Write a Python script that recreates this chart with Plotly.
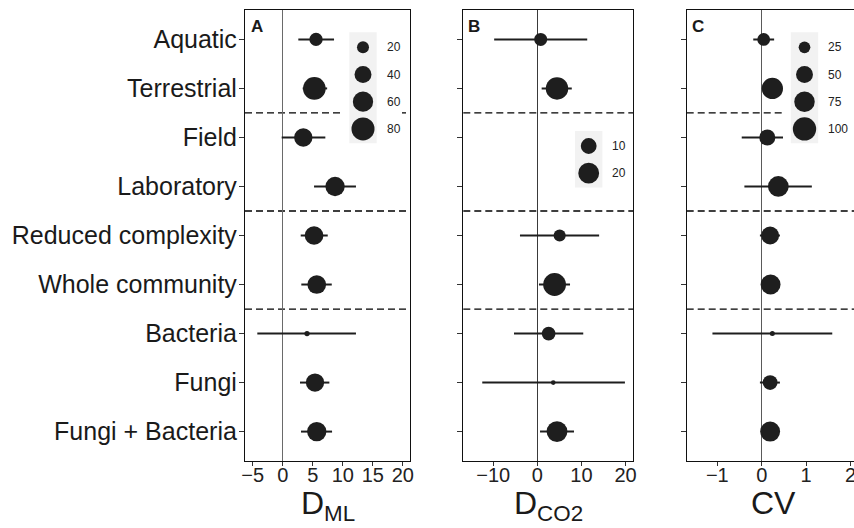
import numpy as np
import plotly.graph_objects as go

W, H = 854, 528

categories = ["Aquatic", "Terrestrial", "Field", "Laboratory", "Reduced complexity",
              "Whole community", "Bacteria", "Fungi", "Fungi + Bacteria"]

A_est = [5.55, 5.27, 3.43, 8.72, 5.22, 5.67, 4.05, 5.38, 5.67]
A_lo = [2.6, 3.33, -0.17, 5.22, 3.0, 3.1, -4.23, 2.88, 3.05]
A_hi = [8.55, 7.4, 7.1, 12.2, 7.5, 8.17, 12.2, 7.77, 8.22]
A_n = [24, 77, 48, 54, 50, 50, 10, 48, 54]

B_est = [0.75, 4.45, None, None, 5.05, 3.9, 2.55, 3.6, 4.45]
B_lo = [-9.8, 0.97, None, None, -3.95, 0.36, -5.3, -12.5, 0.6]
B_hi = [11.3, 7.8, None, None, 14.0, 7.4, 10.4, 19.85, 8.3]
B_n = [6, 24, None, None, 5, 25, 7, 1, 20]

C_est = [0.045, 0.24, 0.126, 0.375, 0.19, 0.2, 0.24, 0.19, 0.19]
C_lo = [-0.19, 0.12, -0.45, -0.39, -0.04, 0.08, -1.11, -0.04, 0.08]
C_hi = [0.28, 0.36, 0.49, 1.13, 0.41, 0.32, 1.59, 0.41, 0.32]
C_n = [29, 82, 45, 77, 57, 71, 13, 38, 71]

A_legend = [20, 40, 60, 80]
B_legend = [10, 20]
C_legend = [25, 50, 75, 100]

A_ticks = [-5, 0, 5, 10, 15, 20]
B_ticks = [-10, 0, 10, 20]
C_ticks = [-1, 0, 1, 2]

titles = ["D<sub>ML</sub>", "D<sub>CO2</sub>", "CV"]
letters = ["A", "B", "C"]

INK = "#1e1e1e"
FONT = "Liberation Sans, Arial, sans-serif"


def size_fn(params):
    d0, k, n0 = params
    return lambda n: d0 + k * np.sqrt(max(n - n0, 0.0))


size_A = size_fn((5.3, 2.12, 10.0))
size_B = size_fn((4.7, 3.7, 1.0))
size_C = size_fn((5.0, 1.97, 13.4))

px = lambda x: x / W
py = lambda y: 1 - y / H

ytop, ybot = 10, 461
panels = [
    dict(est=A_est, lo=A_lo, hi=A_hi, n=A_n, sz=size_A, dom=(245, 410), rng=[-6.28, 21.2],
         ticks=A_ticks, leg=A_legend, legx=363, legy=47.3, legbg=(340, 402, 23, 152), mirror_y=True,
         title_x=327.5, letter=(257, 26.5), zc="#6a6a6a"),
    dict(est=B_est, lo=B_lo, hi=B_hi, n=B_n, sz=size_B, dom=(463.3, 633.3), rng=[-16.8, 21.75],
         ticks=B_ticks, leg=B_legend, legx=588.7, legy=146, legbg=(566, 628, 124, 197), mirror_y=True,
         title_x=548.3, letter=(473.5, 26.7), zc="#3a3a3a"),
    dict(est=C_est, lo=C_lo, hi=C_hi, n=C_n, sz=size_C, dom=(686.7, 854), rng=[-1.69, 2.08],
         ticks=C_ticks, leg=C_legend, legx=804.5, legy=47.3, legbg=(783, 854, 23, 152), mirror_y=False,
         title_x=773.5, letter=(697.6, 26.7), zc="#5a5a5a"),
]

rows = list(range(1, len(categories) + 1))
fig = go.Figure()
shapes = []
annotations = []
layout = {}

for i, p in enumerate(panels):
    sfx = "" if i == 0 else str(i + 1)
    xa, ya = "x" + sfx, "y" + sfx
    xs, ys, ep, em, ss = [], [], [], [], []
    for r, e, lo, hi, n in zip(rows, p["est"], p["lo"], p["hi"], p["n"]):
        if e is None:
            continue
        xs.append(e); ys.append(r); ep.append(hi - e); em.append(e - lo); ss.append(p["sz"](n))
    fig.add_trace(go.Scatter(
        x=xs, y=ys, xaxis=xa, yaxis=ya, mode="markers",
        marker=dict(size=ss, color=INK, opacity=1, line=dict(width=0)),
        error_x=dict(type="data", array=ep, arrayminus=em, color=INK, thickness=2, width=0),
        showlegend=False, hoverinfo="skip"))

    layout["xaxis" + sfx] = dict(
        domain=[px(p["dom"][0]), px(p["dom"][1])], range=p["rng"], anchor=ya,
        tickmode="array", tickvals=p["ticks"], ticks="outside", ticklen=4, tickwidth=1,
        tickcolor="#333", showgrid=False, zeroline=True, zerolinecolor=p["zc"], zerolinewidth=1,
        showline=True, mirror=True, linecolor="#111", linewidth=1.3, ticklabelstandoff=-8,
        ticklabeloverflow="allow",
        tickfont=dict(size=20, color="#222", family=FONT), automargin=False, fixedrange=True)
    ya_cfg = dict(
        domain=[py(ybot), py(ytop)], range=[9.6, 0.4], anchor=xa,
        tickmode="array", tickvals=rows,
        showticklabels=(i == 0), ticks="outside", ticklen=5, tickwidth=1, tickcolor="#333",
        showgrid=False, zeroline=False, showline=True, mirror=p["mirror_y"], linecolor="#111",
        linewidth=1.3, tickfont=dict(size=25, color="#1a1a1a", family=FONT), automargin=False,
        fixedrange=True)
    if i == 0:
        ya_cfg["ticktext"] = categories
        ya_cfg["ticklabelstandoff"] = -3
    layout["yaxis" + sfx] = ya_cfg

    for yv in (2.5, 4.5, 6.5):
        shapes.append(dict(type="line", xref=xa + " domain", yref=ya, x0=0, x1=1, y0=yv, y1=yv,
                           line=dict(color="#000", width=1.3, dash="7px,4px"), layer="below"))

    # legend
    bx0, bx1, by0, by1 = p["legbg"]
    shapes.append(dict(type="rect", xref="paper", yref="paper", x0=px(bx0), x1=px(bx1),
                       y0=py(by1), y1=py(by0), fillcolor="white", line=dict(width=0), layer="above"))
    step = 27.2
    nleg = len(p["leg"])
    gy0 = p["legy"] - 15
    gy1 = p["legy"] + step * (nleg - 1) + 14.3
    shapes.append(dict(type="rect", xref="paper", yref="paper", x0=px(p["legx"] - 13.7),
                       x1=px(p["legx"] + 13.7), y0=py(gy1), y1=py(gy0), fillcolor="#f2f2f2",
                       line=dict(width=0), layer="above"))
    for j, v in enumerate(p["leg"]):
        cy = p["legy"] + step * j
        r = p["sz"](v) / 2
        shapes.append(dict(type="circle", xref="paper", yref="paper", xsizemode="pixel",
                           ysizemode="pixel", xanchor=px(p["legx"]), yanchor=py(cy),
                           x0=-r, x1=r, y0=-r, y1=r, fillcolor=INK, line=dict(width=0),
                           layer="above"))
        annotations.append(dict(x=px(p["legx"] + 21.5), y=py(cy), xref="paper", yref="paper",
                                text=str(v), showarrow=False, xanchor="left", yanchor="middle",
                                font=dict(size=12, color="#222", family=FONT)))

    annotations.append(dict(x=px(p["title_x"]), y=py(483), xref="paper", yref="paper",
                            text=titles[i], showarrow=False, xanchor="center", yanchor="top",
                            font=dict(size=32, color="#1a1a1a", family=FONT)))
    lx, ly = p["letter"]
    annotations.append(dict(x=px(lx), y=py(ly), xref="paper", yref="paper",
                            text="<b>" + letters[i] + "</b>", showarrow=False, xanchor="center",
                            yanchor="middle", font=dict(size=17, color="#1a1a1a", family=FONT)))

fig.update_layout(
    width=W, height=H, margin=dict(l=0, r=0, t=0, b=0),
    paper_bgcolor="white", plot_bgcolor="white",
    shapes=shapes, annotations=annotations, showlegend=False, **layout)

fig.write_html("out.html", config={"displayModeBar": False},
               post_script="document.body.style.margin='0';"
                           "document.body.style.overflow='hidden';")
